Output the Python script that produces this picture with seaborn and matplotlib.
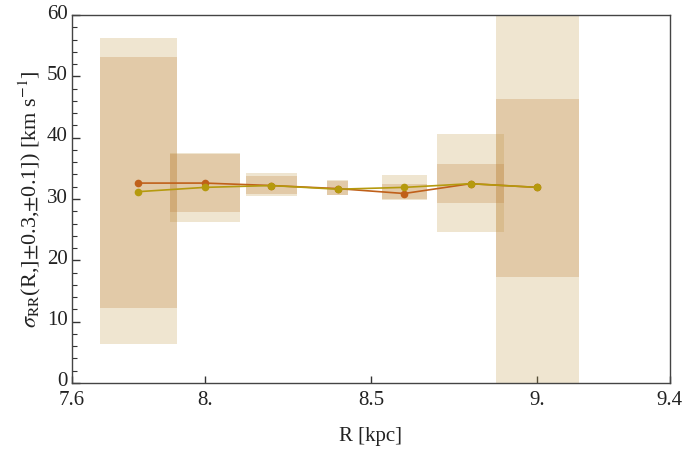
#!/usr/bin/env python3
# sigma_RR profile with error boxes

import numpy as np
import pandas as pd
import matplotlib

matplotlib.use("Agg")
import matplotlib.pyplot as plt
import matplotlib.transforms as mtransforms
from matplotlib.ticker import MultipleLocator, FixedLocator, FixedFormatter
import seaborn as sns

# bin centres and half widths (kpc)
R = [7.8, 8.0, 8.2, 8.4, 8.6, 8.8, 9.0]
half_width = [0.115, 0.105, 0.076, 0.031, 0.068, 0.10, 0.125]

# two estimates of sigma_RR (km/s)
sigma_a = [32.6, 32.6, 32.2, 31.7, 30.9, 32.5, 31.9]
sigma_b = [31.2, 31.9, 32.2, 31.6, 31.9, 32.5, 31.9]

# outer (light) and inner (dark) uncertainty ranges
outer_lo = [6.3, 26.2, 30.5, 30.6, 29.8, 24.7, -5.0]
outer_hi = [56.3, 37.5, 34.2, 33.1, 33.9, 40.6, 65.0]
inner_lo = [12.3, 27.9, 30.8, 30.7, 30.0, 29.3, 17.3]
inner_hi = [53.2, 37.4, 33.8, 33.0, 32.4, 35.7, 46.3]

x_ticks = [7.6, 8.0, 8.5, 9.0, 9.4]
x_tick_labels = ["7.6", "8.", "8.5", "9.", "9.4"]

sns.set_theme(style="ticks")
plt.rcParams.update({
    "font.family": ["Liberation Serif", "DejaVu Serif"],
    "mathtext.fontset": "stix",
    "axes.edgecolor": "#444444",
    "axes.linewidth": 1.0,
})

df = pd.DataFrame({"R": R, "a": sigma_a, "b": sigma_b,
                   "w": np.array(half_width) * 2,
                   "olo": outer_lo, "ohi": outer_hi,
                   "ilo": inner_lo, "ihi": inner_hi})

fig = plt.figure(figsize=(6.85, 4.57), dpi=100)
ax = fig.add_axes([0.105, 0.162, 0.873, 0.805])

ax.bar(df["R"], df["ohi"] - df["olo"], bottom=df["olo"], width=df["w"],
       color="#C29E4A", alpha=0.26, linewidth=0, zorder=1)
ax.bar(df["R"], df["ihi"] - df["ilo"], bottom=df["ilo"], width=df["w"],
       color="#BD7E36", alpha=0.26, linewidth=0, zorder=1)

sns.lineplot(data=df, x="R", y="a", ax=ax, color="#C0601A", marker="o",
             markersize=5.5, markeredgewidth=0, linewidth=1.2, zorder=3)
sns.lineplot(data=df, x="R", y="b", ax=ax, color="#B59A0E", marker="o",
             markersize=5.5, markeredgewidth=0, linewidth=1.2, zorder=4)

ax.set_xlim(7.6, 9.4)
ax.set_ylim(0, 60)
ax.xaxis.set_major_locator(FixedLocator(x_ticks))
ax.xaxis.set_major_formatter(FixedFormatter(x_tick_labels))
ax.yaxis.set_major_locator(MultipleLocator(10))
ax.yaxis.set_minor_locator(MultipleLocator(2))

ax.tick_params(axis="both", which="both", direction="in", colors="#333333",
               labelcolor="#222222", labelsize=15, top=False, right=False)
ax.tick_params(axis="y", which="major", length=6, width=1, pad=3)
ax.tick_params(axis="y", which="minor", length=3.5, width=0.8)
ax.tick_params(axis="x", which="major", length=5, width=1, pad=6)

# nudge y tick labels up a little so "0" clears "7.6"
shift = mtransforms.ScaledTranslation(0, 2.5 / 72, fig.dpi_scale_trans)
for lbl in ax.get_yticklabels():
    lbl.set_transform(lbl.get_transform() + shift)

ax.set_xlabel("R [kpc]", fontsize=15, color="#222222", labelpad=12)
ax.set_ylabel(r"$\sigma_{\rm RR}$(R,]$\pm$0.3,$\pm$0.1]) [km s$^{-1}$]",
              fontsize=16, color="#222222", labelpad=3)

fig.savefig("out.png", dpi=100)
plt.close(fig)
